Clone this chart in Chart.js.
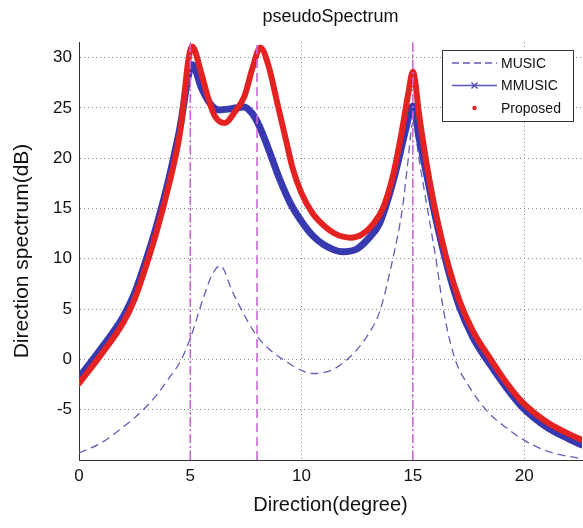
<!DOCTYPE html>
<html>
<head>
<meta charset="utf-8">
<script src="https://cdn.jsdelivr.net/npm/chart.js@4/dist/chart.umd.min.js"></script>
<style>
  html, body { margin: 0; padding: 0; background: #fff; }
</style>
</head>
<body>
<canvas id="chart" width="583" height="528"></canvas>
<script>
const FONT = "'Liberation Sans', Arial, sans-serif"

// values
const musicX = [0, 1, 2, 2.8, 3.5, 4, 4.6, 5.05, 5.57, 6, 6.35, 6.9, 7.5, 7.97, 8.5, 9.16, 10, 10.5, 11, 11.5, 12, 12.5, 13, 13.5, 14.1, 14.55, 14.77, 15, 15.3, 15.66, 16.05, 16.4, 16.9, 17.5, 18.4, 19.2, 19.9, 21, 22.6]
const musicY = [-9.3, -8.3, -6.7, -5.2, -3.5, -2, 0, 2.4, 6, 8.5, 9.3, 6.7, 4.1, 2.4, 1.1, 0, -1.1, -1.4, -1.3, -0.9, -0.1, 1, 2.5, 4.7, 10, 15.3, 19.5, 23.5, 19.6, 14.9, 9.8, 4.6, 0, -2.6, -5.3, -6.8, -7.9, -9.1, -9.9]

const mmusicX = [0, 1, 2, 2.5, 3, 3.5, 4, 4.5, 5.1, 5.5, 5.9, 6.3, 6.8, 7.4, 7.8, 8.1, 8.5, 9, 9.5, 10, 10.5, 11, 11.85, 12.5, 13, 13.5, 14, 14.3, 14.65, 15, 15.3, 15.6, 16, 16.6, 17.1, 17.7, 18.5, 19.2, 19.9, 21, 22, 22.6]
const mmusicY = [-1.8, 1.1, 4.3, 6.6, 9.8, 13.4, 17.6, 22.6, 29.3, 27, 25.4, 24.8, 24.9, 25.1, 24.4, 23.2, 21, 18, 15.5, 13.7, 12.3, 11.4, 10.7, 11, 12, 13.5, 16.8, 19.3, 22.6, 25.2, 21.8, 18.6, 14.3, 8.8, 5.2, 2.2, -0.6, -2.8, -4.7, -6.7, -7.9, -8.5]

const proposedX = [0, 1, 2, 2.5, 3, 3.5, 4, 4.5, 5.08, 5.5, 5.8, 6.1, 6.55, 7, 7.44, 7.8, 8.15, 8.5, 8.94, 9.3, 9.6, 10, 10.5, 11, 11.5, 12.2, 12.7, 13.2, 13.65, 14.1, 14.5, 14.8, 15, 15.3, 15.6, 16, 16.6, 17.1, 17.7, 18.5, 19.2, 19.9, 21, 22, 22.6]
const proposedY = [-2.4, 0.5, 3.7, 6, 9.2, 12.8, 17, 22, 31.1, 28.4, 26, 24.2, 23.5, 24.6, 26.2, 29, 31, 29.3, 25.2, 21.8, 19, 16.5, 14.5, 13.3, 12.5, 12.1, 12.4, 13.4, 15, 18.2, 22.6, 26.5, 28.6, 24, 19.7, 14.9, 9.3, 5.8, 2.8, 0, -2.3, -4.2, -6.2, -7.4, -8]

const trueAngles = [5, 8, 15]
const xTicks = [0, 5, 10, 15, 20]
const yTicks = [-5, 0, 5, 10, 15, 20, 25, 30]
const xRange = [0, 22.6]
const yRange = [-10, 31.55]

const pts = (xs, ys) => xs.map((x, i) => ({x: x, y: ys[i]}))

const angleDash = [[9, 3, 2, 3], [9, 5], [9, 3, 2, 3]]
const angleSets = trueAngles.map((a, i) => ({
  label: 'angle ' + a,
  data: [{x: a, y: yRange[0]}, {x: a, y: yRange[1]}],
  borderColor: '#c966d6',
  borderWidth: 1.6,
  borderDash: angleDash[i],
  pointRadius: 0,
  order: 0
}))

const series = [
  {
    label: 'MUSIC',
    data: pts(musicX, musicY),
    borderColor: '#5f5fb8',
    borderWidth: 1.3,
    borderDash: [8, 5],
    pointRadius: 0,
    cubicInterpolationMode: 'monotone',
    order: 3
  },
  {
    label: 'MMUSIC',
    data: pts(mmusicX, mmusicY),
    borderColor: '#3838b0',
    borderWidth: 7,
    borderJoinStyle: 'round',
    borderCapStyle: 'round',
    pointRadius: 0,
    cubicInterpolationMode: 'monotone',
    order: 2
  },
  {
    label: 'Proposed',
    data: pts(proposedX, proposedY),
    borderColor: '#e52222',
    borderWidth: 6,
    borderJoinStyle: 'round',
    borderCapStyle: 'round',
    pointRadius: 0,
    cubicInterpolationMode: 'monotone',
    order: 1
  }
]

// title and boxed legend drawn in the matlab way
const decor = {
  id: 'decor',
  afterDraw(chart) {
    const ctx = chart.ctx
    const area = chart.chartArea
    ctx.save()
    ctx.fillStyle = '#111'
    ctx.font = '18px ' + FONT
    ctx.textAlign = 'center'
    ctx.textBaseline = 'middle'
    ctx.fillText('pseudoSpectrum', (area.left + area.right) / 2, 17)

    const w = 131, h = 71
    const lx = area.right - 9 - w, ly = area.top + 8
    ctx.fillStyle = '#fff'
    ctx.fillRect(lx, ly, w, h)
    ctx.strokeStyle = '#333'
    ctx.lineWidth = 1
    ctx.strokeRect(lx + 0.5, ly + 0.5, w, h)

    ctx.font = '14px ' + FONT
    ctx.textAlign = 'left'
    series.forEach((s, i) => {
      const y = ly + 13 + i * 22.5
      const x0 = lx + 10, x1 = lx + 55, xm = (x0 + x1) / 2
      if (i === 0) {
        ctx.strokeStyle = s.borderColor
        ctx.lineWidth = 1.5
        ctx.setLineDash([7, 4])
        ctx.beginPath(); ctx.moveTo(x0, y); ctx.lineTo(x1, y); ctx.stroke()
        ctx.setLineDash([])
      } else if (i === 1) {
        ctx.strokeStyle = '#5555bb'
        ctx.lineWidth = 1.5
        ctx.beginPath(); ctx.moveTo(x0, y); ctx.lineTo(x1, y); ctx.stroke()
        ctx.beginPath()
        ctx.moveTo(xm - 3, y - 3); ctx.lineTo(xm + 3, y + 3)
        ctx.moveTo(xm - 3, y + 3); ctx.lineTo(xm + 3, y - 3)
        ctx.stroke()
      } else {
        ctx.fillStyle = s.borderColor
        ctx.beginPath(); ctx.arc(xm, y, 2.2, 0, Math.PI * 2); ctx.fill()
      }
      ctx.fillStyle = '#111'
      ctx.fillText(s.label, x1 + 4, y + 1)
    })
    ctx.restore()
  }
}

new Chart(document.getElementById('chart'), {
  type: 'line',
  data: { datasets: [...series, ...angleSets] },
  plugins: [decor],
  options: {
    responsive: false,
    animation: false,
    layout: { padding: { top: 42, right: 1, left: 0, bottom: 0 } },
    plugins: {
      legend: { display: false },
      title: { display: false },
      tooltip: { enabled: false }
    },
    scales: {
      x: {
        type: 'linear',
        min: xRange[0],
        max: xRange[1],
        ticks: { padding: 6, color: '#111', font: { family: FONT, size: 17 } },
        afterBuildTicks: s => { s.ticks = xTicks.map(v => ({value: v})) },
        afterFit: s => { s.height = 68 },
        grid: { color: '#8a8a8a', lineWidth: 1, drawTicks: false },
        border: { color: '#333', width: 1, dash: [1, 3] },
        title: { display: true, text: 'Direction(degree)', color: '#111', padding: { top: 4, bottom: 11 }, font: { family: FONT, size: 20 } }
      },
      y: {
        min: yRange[0],
        max: yRange[1],
        ticks: { padding: 7, color: '#111', font: { family: FONT, size: 17 } },
        afterBuildTicks: s => { s.ticks = yTicks.map(v => ({value: v})) },
        afterFit: s => { s.width = 79 },
        grid: { color: '#8a8a8a', lineWidth: 1, drawTicks: false },
        border: { color: '#333', width: 1, dash: [1, 3] },
        title: { display: true, text: 'Direction spectrum(dB)', color: '#111', padding: { top: 10, bottom: 4 }, font: { family: FONT, size: 21 } }
      }
    }
  }
})
</script>
</body>
</html>
